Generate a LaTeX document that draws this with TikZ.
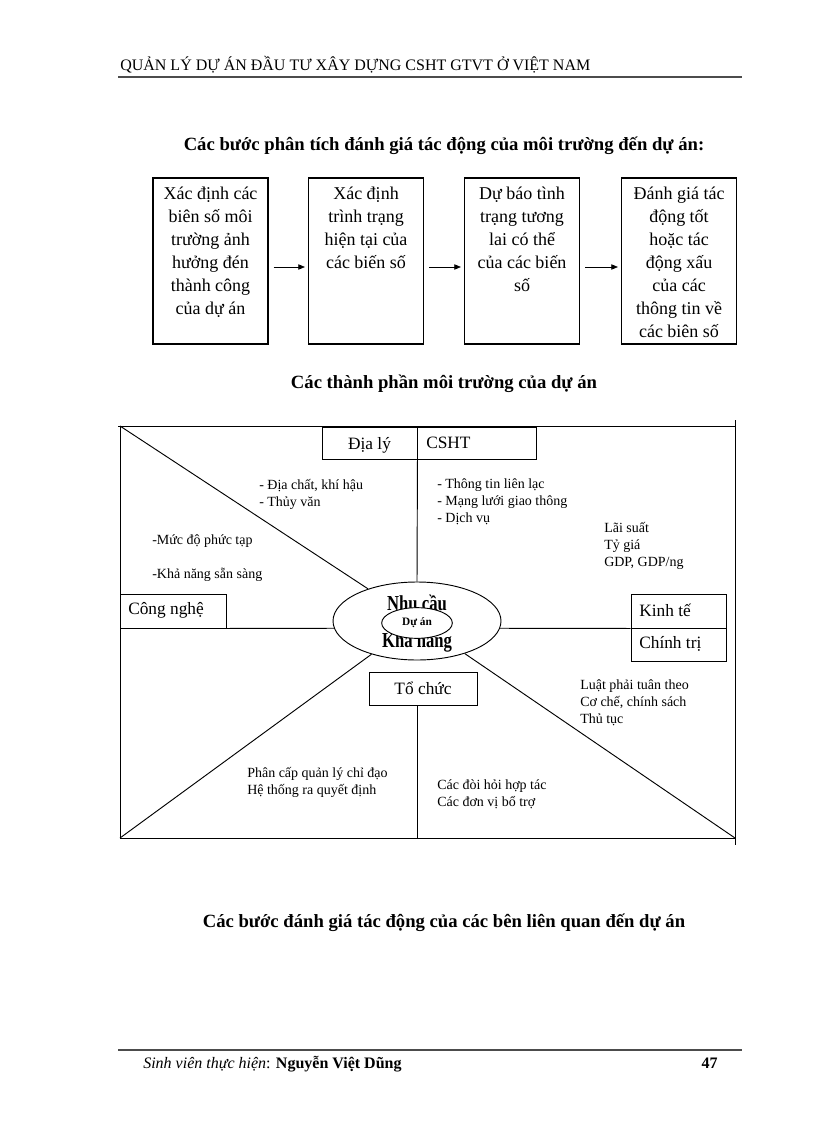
\documentclass[tikz,border=0pt]{standalone}
\usepackage{fontspec}
\setmainfont{Liberation Serif}
\usetikzlibrary{shapes.geometric,arrows.meta,calc}
\begin{document}
\begin{tikzpicture}[x=0.75pt,y=-0.75pt,
 stepbox/.style={draw,line width=0.8pt,minimum width=86.25pt,minimum height=124.5pt,inner sep=0},
 steptxt/.style={anchor=north,align=center,font=\fontsize{13.5}{17.25}\selectfont,inner sep=0},
 arr/.style={-{Triangle[length=5pt,width=4pt]},line width=0.6pt},
 lbl/.style={anchor=west,inner sep=0,font=\fontsize{10.5}{12.75}\selectfont,align=left},
 cat/.style={anchor=west,inner sep=0,font=\fontsize{13}{15}\selectfont},
 catbox/.style={draw,line width=0.7pt,inner sep=0},
 fr/.style={line width=0.7pt},
 rule/.style={line width=1.5pt,black!70},
 ttl/.style={font=\bfseries\fontsize{14}{16}\selectfont,inner sep=0},
 big/.style={font=\bfseries\fontsize{16}{17}\selectfont,xscale=0.78,inner sep=0}]
\useasboundingbox (0,0) rectangle (816,1123);

% header
\node[anchor=base west,inner sep=0,font=\fontsize{12}{14}\selectfont] (hdr) at (120,71) {QUẢN LÝ DỰ ÁN ĐẦU TƯ XÂY DỰNG CSHT GTVT Ở VIỆT NAM};
\coordinate (hl) at (118,77); \coordinate (hr) at (742,77);
\draw[rule] (hl) -- (hr);

% title 1
\node[ttl] (t1) at (444,146) {Các bước phân tích đánh giá tác động của môi trường đến dự án:};

% step boxes
\node[stepbox] (b1) at (210.5,261) {};
\node[stepbox] (b2) at (366,261) {};
\node[stepbox] (b3) at (522,261) {};
\node[stepbox] (b4) at (679,261) {};
\node[steptxt] (s1) at (210.5,187) {Xác định các\\biên số môi\\trường ảnh\\hưởng đén\\thành công\\của dự án};
\node[steptxt] (s2) at (366,187) {Xác định\\trình trạng\\hiện tại của\\các biến số};
\node[steptxt] (s3) at (522,187) {Dự báo tình\\trạng tương\\lai có thể\\của các biến\\số};
\node[steptxt] (s4) at (679,187) {Đánh giá tác\\động tốt\\hoặc tác\\động xấu\\của các\\thông tin về\\các biên số};
\draw[arr] ($(b1.east)+(5,6)$) -- ($(b2.west)+(-3,6)$);
\draw[arr] ($(b2.east)+(5,6)$) -- ($(b3.west)+(-3,6)$);
\draw[arr] ($(b3.east)+(5,6)$) -- ($(b4.west)+(-3,6)$);

% title 2
\node[ttl] (t2) at (444,384) {Các thành phần môi trường của dự án};

% frame
\coordinate (tl) at (120,426);
\coordinate (tr) at (735,426);
\coordinate (bl) at (120,838);
\coordinate (br) at (735,838);
\coordinate (bm) at (417,838);
\draw[fr] (118,426) -- (tr);
\draw[fr] (tl) -- (bl) -- (br);
\draw[fr] (735,420) -- (735,845);

% centre ellipse
\node[draw,ellipse,line width=0.7pt,minimum width=126pt,minimum height=58.5pt,inner sep=0] (env) at (417,621) {};
\node[big] (nc) at (417,603) {Nhu cầu};
\node[big] (kn) at (417,642) {Khả năng};
\node[draw,ellipse,fill=white,line width=0.7pt,minimum width=53pt,minimum height=23pt,inner sep=0,font=\bfseries\fontsize{8.5}{9}\selectfont] (da) at (417,623) {Dự án};

% category boxes
\node[catbox,minimum width=71.25pt,minimum height=24pt] (dl) at (369.5,443) {};
\node[catbox,minimum width=89.25pt,minimum height=24pt] (cs) at (476.5,443) {};
\node[font=\fontsize{13}{15}\selectfont,inner sep=0] at ($(dl)+(0,2)$) {Địa lý};
\node[cat] at (426,443) {CSHT};
\node[catbox,minimum width=79.5pt,minimum height=25.5pt] (cn) at (173,611) {};
\node[cat] at (128,610) {Công nghệ};
\node[catbox,minimum width=71.25pt,minimum height=25.5pt] (kt) at (678.5,611) {};
\node[catbox,minimum width=71.25pt,minimum height=24.75pt] (ct) at (678.5,644.5) {};
\node[cat] at (639,610) {Kinh tế};
\node[cat] at (639,644) {Chính trị};
\node[catbox,minimum width=81pt,minimum height=24.75pt] (tc) at (423,688.5) {};
\node[font=\fontsize{13}{15}\selectfont,inner sep=0] at (tc) {Tổ chức};

% connectors
\draw[fr] (tl) -- (env);
\draw[fr] (bl) -- (env);
\draw[fr] (br) -- (env);
\draw[fr] (dl.south east) -- (env.north);
\draw[fr] (cn.south east) -- (env.185);
\draw[fr] (env.355) -- (kt.south west);
\draw[fr] (tc.south -| bm) -- (bm);

% labels
\node[lbl] at (259,494) {- Địa chất, khí hậu\\- Thủy văn};
\node[lbl] at (437,502) {- Thông tin liên lạc\\- Mạng lưới giao thông\\- Dịch vụ};
\node[lbl] at (604,546) {Lãi suất\\Tỷ giá\\GDP, GDP/ng};
\node[lbl] at (152,541) {-Mức độ phức tạp};
\node[lbl] at (152,575) {-Khả năng sẵn sàng};
\node[lbl] at (580,703) {Luật phải tuân theo\\Cơ chế, chính sách\\Thủ tục};
\node[lbl] at (247,782) {Phân cấp quản lý chỉ đạo\\Hệ thống ra quyết định};
\node[lbl] at (437,794) {Các đòi hỏi hợp tác\\Các đơn vị bổ trợ};

% title 3
\node[ttl] (t3) at (444,923) {Các bước đánh giá tác động của các bên liên quan đến dự án};

% footer
\coordinate (fl) at (118,1050); \coordinate (fr2) at (742,1050);
\draw[rule] (fl) -- (fr2);
\node[anchor=base west,inner sep=0,font=\fontsize{12}{14}\selectfont] (ft) at (143,1068) {\textit{Sinh viên thực hiện}: \textbf{Nguyễn Việt Dũng}};
\node[anchor=base east,inner sep=0,font=\bfseries\fontsize{12}{14}\selectfont] (pg) at (718,1068) {47};
\end{tikzpicture}
\end{document}
